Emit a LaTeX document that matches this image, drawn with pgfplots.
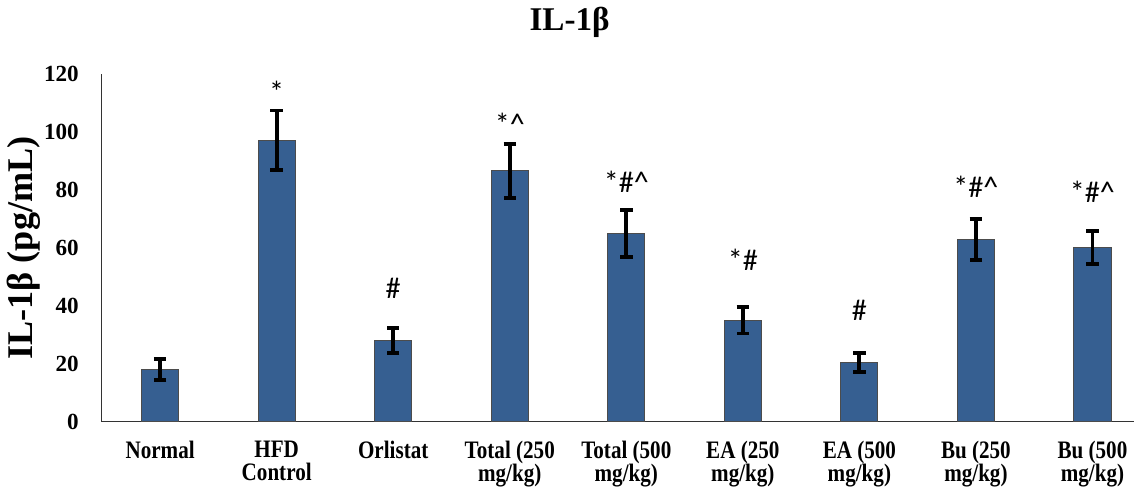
\documentclass[border=0pt]{standalone}
\usepackage{fontspec}
\setmainfont{Liberation Serif}
\newfontfamily\condfont[FakeStretch=0.84]{Liberation Serif}
\newfontfamily\annfont{Carlito}
\usepackage{pgfplots}
\pgfplotsset{compat=1.18}
\definecolor{barblue}{RGB}{54,95,145}
\begin{document}
\begin{tikzpicture}
\begin{axis}[
 scale only axis, width=513.9pt, height=173pt,
 xmin=-0.5, xmax=8.36, ymin=0, ymax=120,
 axis x line=bottom, axis y line=left,
 axis line style={-, black!80, line width=0.6pt},
 ytick={0,20,...,120},
 xtick={0,...,8},
 xticklabels={Normal, {HFD\\Control}, Orlistat, {Total (250\\mg/kg)}, {Total (500\\mg/kg)}, {EA (250\\mg/kg)}, {EA (500\\mg/kg)}, {Bu (250\\mg/kg)}, {Bu (500\\mg/kg)}},
 major tick length=0pt,
 /pgf/number format/assume math mode=true,
 yticklabel style={font=\bfseries\fontsize{11.5}{13}\selectfont, xshift=-8pt},
 xticklabel style={font=\condfont\bfseries\fontsize{12.5}{11.5}\selectfont, align=center, yshift=-6pt, anchor=north},
 ylabel={IL-1β (pg/mL)},
 ylabel style={font=\bfseries\fontsize{18}{19}\selectfont, at={(axis description cs:-0.0760,0.5)}, anchor=center},
 title={IL-1β},
 title style={font=\bfseries\fontsize{16.5}{18}\selectfont, at={(axis description cs:0.453,1)}, anchor=base, yshift=16pt},
]
\addplot[ybar, bar width=18.5pt, fill=barblue, draw=black!70, line width=0.5pt,
  error bars/.cd, y dir=both, y explicit,
  error bar style={line width=1.9pt, black},
  error mark options={rotate=90, mark size=3.1pt, line width=1.9pt, black}]
 coordinates {
 (0,18.0) +- (0,3.6)
 (1,97.2) +- (0,10.3)
 (2,28.1) +- (0,4.3)
 (3,86.6) +- (0,9.4)
 (4,65.0) +- (0,8.0)
 (5,35.1) +- (0,4.6)
 (6,20.5) +- (0,3.4)
 (7,63.0) +- (0,7.0)
 (8,60.2) +- (0,5.7)
 };
\addplot[only marks, mark=none, nodes near coords, point meta=explicit symbolic,
  nodes near coords style={font=\annfont\fontsize{15}{16}\selectfont, anchor=center, black}]
 coordinates {
 (1,114)[*]
 (2,46)[\#]
 (3,103)[*\textasciicircum]
 (4,83)[*\#\textasciicircum]
 (5,56)[*\#]
 (6,38.5)[\#]
 (7,81)[*\#\textasciicircum]
 (8,79.5)[*\#\textasciicircum]
 };
\end{axis}
\end{tikzpicture}
\end{document}
